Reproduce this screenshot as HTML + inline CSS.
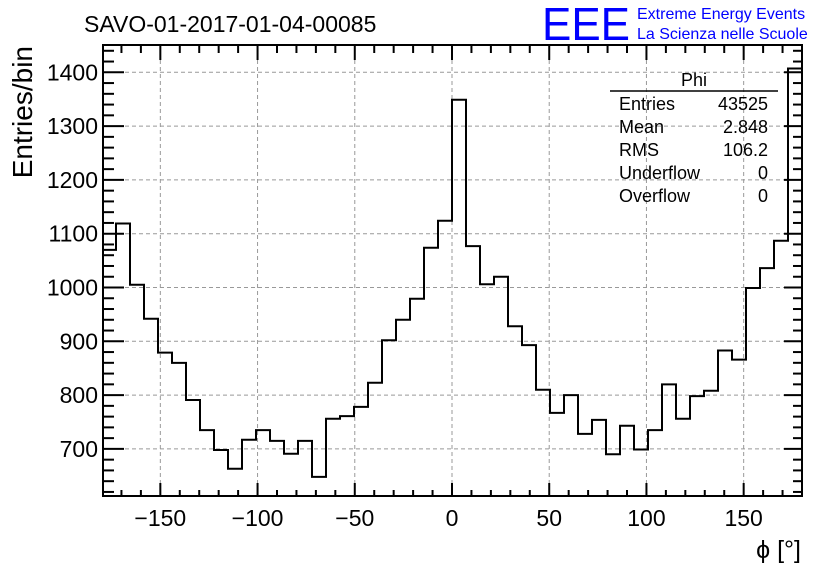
<!DOCTYPE html>
<html><head><meta charset="utf-8"><style>
body{margin:0;background:#fff;}
svg{display:block;font-family:"Liberation Sans",sans-serif;}
</style></head><body>
<svg id="chart" width="836" height="572" viewBox="0 0 836 572" xmlns="http://www.w3.org/2000/svg">
<rect width="836" height="572" fill="#fff"/>
<text x="84" y="32" font-size="23">SAVO-01-2017-01-04-00085</text>
<text x="542" y="40" font-size="46" fill="#0000ff" textLength="88" lengthAdjust="spacingAndGlyphs">EEE</text>
<text x="637" y="19" font-size="16" fill="#0000ff">Extreme Energy Events</text>
<text x="637" y="39" font-size="16" fill="#0000ff">La Scienza nelle Scuole</text>
<g id="grid"></g>
<g id="ticks"></g>
<path id="hist" fill="none" stroke="#000" stroke-width="2"/>
<rect x="103" y="45" width="699" height="451" fill="none" stroke="#000" stroke-width="2"/>
<g font-size="18">
<text x="694" y="86" text-anchor="middle">Phi</text>
<line x1="610" y1="91" x2="778" y2="91" stroke="#000" stroke-width="1.5"/>
<text x="619" y="110">Entries</text><text x="768" y="110" text-anchor="end">43525</text>
<text x="619" y="133">Mean</text><text x="768" y="133" text-anchor="end">2.848</text>
<text x="619" y="156">RMS</text><text x="768" y="156" text-anchor="end">106.2</text>
<text x="619" y="179">Underflow</text><text x="768" y="179" text-anchor="end">0</text>
<text x="619" y="202">Overflow</text><text x="768" y="202" text-anchor="end">0</text>
</g>
<text transform="translate(32,46) rotate(-90)" font-size="28" text-anchor="end">Entries/bin</text>
<text x="801" y="558" font-size="25" text-anchor="end">ϕ [°]</text>
</svg>
<script>
const counts = [1070,1119,1005,942,879,860,791,735,698,663,717,735,715,691,715,648,756,761,778,823,902,940,979,1074,1124,1349,1077,1006,1020,928,893,810,767,800,728,754,690,743,699,735,820,756,798,808,883,866,999,1036,1087,1407];
const xTicks = [-150,-100,-50,0,50,100,150];
const yTicks = [700,800,900,1000,1100,1200,1300,1400];
const xMin=-180,xMax=180,binWidth=7.2;
const NS="http://www.w3.org/2000/svg";
const X=v=>102+(v-xMin)*(700/360);
const Y=v=>72.3+(1400-v)*0.538;
const grid=document.getElementById('grid'), ticks=document.getElementById('ticks');
function line(g,x1,y1,x2,y2,attrs){const l=document.createElementNS(NS,'line');l.setAttribute('x1',x1);l.setAttribute('y1',y1);l.setAttribute('x2',x2);l.setAttribute('y2',y2);for(const k in attrs)l.setAttribute(k,attrs[k]);g.appendChild(l);return l;}
xTicks.forEach(t=>{
  const l=line(grid,X(t),46,X(t),495,{stroke:'#999','stroke-dasharray':'4,3','stroke-width':1});
  
  
  const tx=document.createElementNS(NS,'text');
  tx.setAttribute('x',X(t));tx.setAttribute('y',526);tx.setAttribute('font-size','23');tx.setAttribute('text-anchor','middle');
  tx.textContent=t<0?'\u2212'+(-t):String(t);
  
  
  ticks.appendChild(tx);
});
yTicks.forEach(t=>{
  const l=line(grid,104,Y(t),801,Y(t),{stroke:'#999','stroke-dasharray':'4,3','stroke-width':1});
  
  
  const tx=document.createElementNS(NS,'text');
  tx.setAttribute('x',98);tx.setAttribute('y',Y(t)+8);tx.setAttribute('font-size','23');tx.setAttribute('text-anchor','end');
  tx.textContent=t;
  
  
  ticks.appendChild(tx);
});
const ta={stroke:'#000','stroke-width':2};
for(let v=-170;v<=170;v+=10){const maj=v%50===0;
  line(ticks,X(v),496,X(v),496-(maj?13:6),ta);
  line(ticks,X(v),45,X(v),45+(maj?15:8),ta);}
for(let v=620;v<=1440;v+=20){const y=Y(v);if(y<46||y>495)continue;const maj=v%100===0;
  line(ticks,103,y,103+(maj?21:11),y,ta);
  line(ticks,802,y,802-(maj?18:9),y,ta);}
let d='';
counts.forEach((c,i)=>{const x0=X(xMin+i*binWidth),x1=X(xMin+(i+1)*binWidth),y=Y(c);
  d+=(i===0?'M'+x0+','+y:'L'+x0+','+y)+'L'+x1+','+y;});
document.getElementById('hist').setAttribute('d',d);
</script>
</body></html>
